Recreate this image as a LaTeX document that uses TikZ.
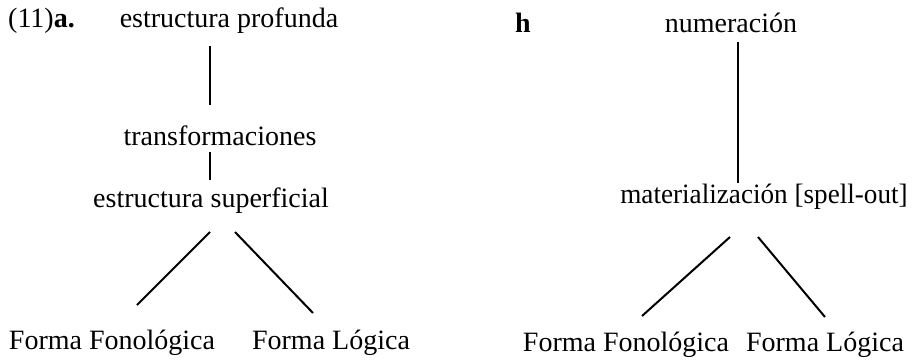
\documentclass[tikz,border=0pt]{standalone}
\usepackage{fontspec}
\setmainfont{Liberation Serif}
\begin{document}
\begin{tikzpicture}[x=1pt,y=-1pt,
  lbl/.style={inner sep=0pt,anchor=base,font=\fontsize{28}{34}\selectfont},
  branch/.style={line width=2pt,line cap=butt}]
\fill[white] (0,0) rectangle (915,361);
\useasboundingbox (0,0) rectangle (915,361);
% (a)
\node[lbl,anchor=base west] (exa) at (8,28) {(11)\textbf{a.}};
\node[lbl] (ep) at (229,28) {estructura profunda};
\node[lbl] (tr) at (220,145) {transformaciones};
\node[lbl] (es) at (211,207) {estructura superficial};
\node[lbl] (ffa) at (112,349) {Forma Fonológica};
\node[lbl] (fla) at (331,349) {Forma Lógica};
\coordinate (a1t) at (210,46);  \coordinate (a1b) at (210,105);
\coordinate (a2t) at (210,152); \coordinate (a2b) at (210,180);
\coordinate (a3t) at (210,232); \coordinate (a3b) at (137,305);
\coordinate (a4t) at (235,232); \coordinate (a4b) at (313,313);
\draw[branch] (a1t) -- (a1b);
\draw[branch] (a2t) -- (a2b);
\draw[branch] (a3t) -- (a3b);
\draw[branch] (a4t) -- (a4b);
% (b)
\node[lbl,anchor=base west] (exb) at (515,33) {\textbf{h}};
\node[lbl] (num) at (731,33) {numeración};
\node[lbl,xscale=0.97] (mat) at (764,203) {materialización [spell-out]};
\node[lbl] (ffb) at (626,351) {Forma Fonológica};
\node[lbl] (flb) at (825,351) {Forma Lógica};
\coordinate (b1t) at (738,42);  \coordinate (b1b) at (738,183);
\coordinate (b2t) at (730,237); \coordinate (b2b) at (642,316);
\coordinate (b3t) at (758,237); \coordinate (b3b) at (825,317);
\draw[branch] (b1t) -- (b1b);
\draw[branch] (b2t) -- (b2b);
\draw[branch] (b3t) -- (b3b);
\end{tikzpicture}
\end{document}
